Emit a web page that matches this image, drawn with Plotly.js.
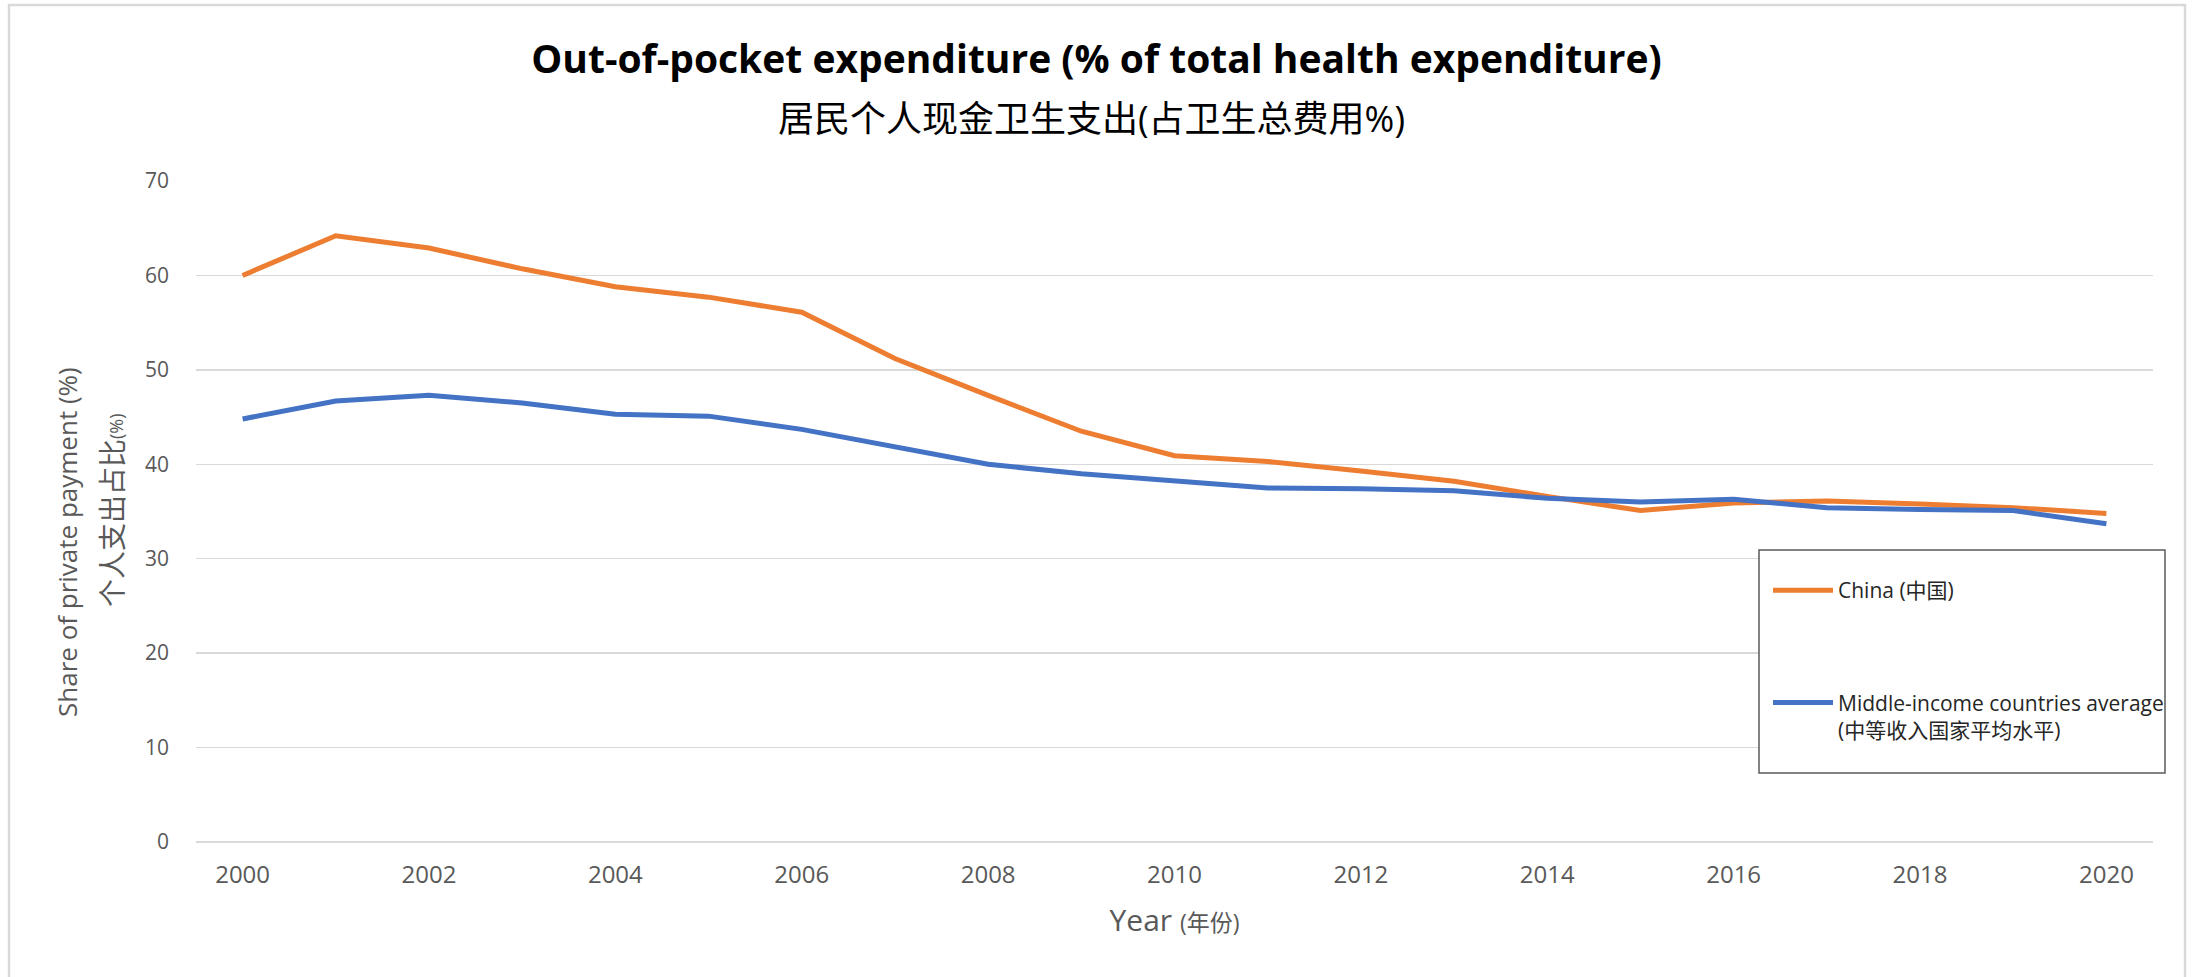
<!DOCTYPE html>
<html>
<head>
<meta charset="utf-8">
<script src="https://cdn.plot.ly/plotly-3.0.1.min.js"></script>
<style>
  html, body { margin: 0; padding: 0; background: #ffffff; }
  #chart { width: 2193px; height: 977px; }
</style>
</head>
<body>
<div id="chart"></div>
<script>
const years = [2000, 2001, 2002, 2003, 2004, 2005, 2006, 2007, 2008, 2009, 2010,
               2011, 2012, 2013, 2014, 2015, 2016, 2017, 2018, 2019, 2020];
const chinaValues = [60.0, 64.2, 62.9, 60.7, 58.8, 57.7, 56.1, 51.2, 47.3, 43.5, 40.9,
                     40.3, 39.3, 38.2, 36.6, 35.1, 35.9, 36.1, 35.8, 35.4, 34.8];
const middleIncomeValues = [44.8, 46.7, 47.3, 46.5, 45.3, 45.1, 43.7, 41.8, 40.0, 39.0, 38.2,
                            37.5, 37.4, 37.2, 36.4, 36.0, 36.3, 35.4, 35.2, 35.1, 33.7];
const seriesNames = ["China (中国)", "Middle-income countries average<br>(中等收入国家平均水平)"];
const xTickValues = [2000, 2002, 2004, 2006, 2008, 2010, 2012, 2014, 2016, 2018, 2020];
const yTickValues = [0, 10, 20, 30, 40, 50, 60, 70];

const FONT = "Open Sans, Noto Sans CJK SC, sans-serif";
const GRAY = "#595959";

const traces = [
  {
    x: years, y: chinaValues, type: "scatter", mode: "lines",
    name: seriesNames[0], legendgroup: "g1",
    line: { color: "#ED7D31", width: 5, shape: "linear" }
  },
  {
    x: years, y: middleIncomeValues, type: "scatter", mode: "lines",
    name: seriesNames[1], legendgroup: "g2",
    line: { color: "#4472C4", width: 5, shape: "linear" }
  }
];

const layout = {
  width: 2193, height: 977,
  paper_bgcolor: "#ffffff", plot_bgcolor: "#ffffff",
  margin: { l: 196, r: 40, t: 181, b: 135 },
  font: { family: FONT, color: GRAY },
  title: {
    text: "<b>Out-of-pocket expenditure (% of total health expenditure)</b>",
    font: { family: FONT, size: 39, color: "#000000" },
    x: 0.5, xref: "container", xanchor: "center",
    y: 1 - 59 / 977, yref: "container", yanchor: "middle"
  },
  xaxis: {
    type: "linear", range: [1999.5, 2020.5],
    tickmode: "array", tickvals: xTickValues,
    showgrid: false, zeroline: false, showline: false,
    ticks: "", ticklabelstandoff: 16,
    tickfont: { family: FONT, size: 24, color: GRAY },
    title: {
      text: "Year <span style=\"font-size:23px\">(年份)</span>",
      font: { family: FONT, size: 30, color: GRAY },
      standoff: 20
    },
    automargin: false
  },
  yaxis: {
    range: [0, 70], tickmode: "array", tickvals: yTickValues,
    showgrid: true, gridcolor: "#d9d9d9", gridwidth: 1.5,
    zeroline: true, zerolinecolor: "#d9d9d9", zerolinewidth: 1.5,
    showline: false, ticks: "", ticklabelstandoff: 26,
    tickfont: { family: FONT, size: 21, color: GRAY },
    automargin: false
  },
  showlegend: true,
  legend: {
    x: (1768 - 196) / 1957, xanchor: "left",
    y: (842 - 570) / 661, yanchor: "top",
    bgcolor: "rgba(0,0,0,0)", borderwidth: 0,
    font: { family: FONT, size: 21, color: "#262626" },
    tracegroupgap: 82, itemwidth: 60, valign: "top",
    traceorder: "grouped"
  },
  shapes: [
    {
      type: "rect", xref: "paper", yref: "paper", layer: "above",
      x0: (1759 - 196) / 1957, x1: (2165 - 196) / 1957,
      y0: (842 - 773) / 661, y1: (842 - 550) / 661,
      fillcolor: "#ffffff", line: { color: "#595959", width: 1.5 }
    },
    {
      type: "rect", xref: "paper", yref: "paper", layer: "below",
      x0: (9 - 196) / 1957, x1: (2185 - 196) / 1957,
      y0: (842 - 1000) / 661, y1: (842 - 5) / 661,
      fillcolor: "rgba(0,0,0,0)", line: { color: "#d9d9d9", width: 2.5 }
    }
  ],
  annotations: [
    {
      text: "居民个人现金卫生支出(占卫生总费用%)",
      xref: "paper", yref: "paper",
      x: (1091 - 196) / 1957, y: (842 - 119) / 661,
      xanchor: "center", yanchor: "middle", showarrow: false,
      font: { family: FONT, size: 36, color: "#000000" }
    },
    {
      text: "Share of private payment (%)",
      xref: "paper", yref: "paper",
      x: (67 - 196) / 1957, y: (842 - 542) / 661,
      xanchor: "center", yanchor: "middle", showarrow: false, textangle: -90,
      font: { family: FONT, size: 26, color: GRAY }
    },
    {
      text: "个人支出占比<span style=\"font-size:18px\">(%)</span>",
      xref: "paper", yref: "paper",
      x: (112 - 196) / 1957, y: (842 - 510) / 661,
      xanchor: "center", yanchor: "middle", showarrow: false, textangle: -90,
      font: { family: FONT, size: 28, color: GRAY }
    }
  ]
};

Plotly.newPlot("chart", traces, layout, { displayModeBar: false, staticPlot: true });
</script>
</body>
</html>
